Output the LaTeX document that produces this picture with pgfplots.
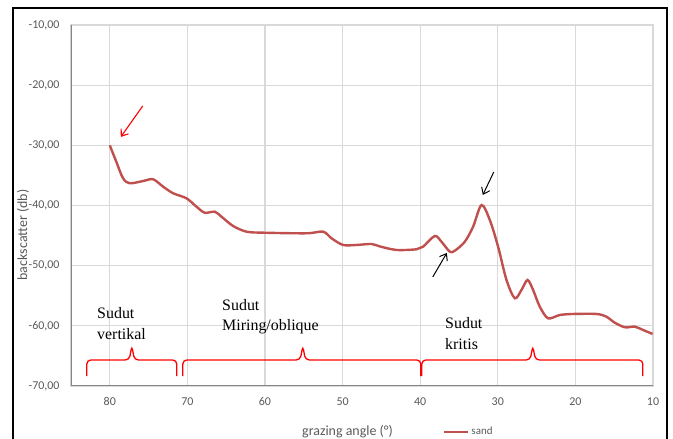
\documentclass[border=0pt]{standalone}
\usepackage{pgfplots}
\pgfplotsset{compat=1.18}
\usepackage{fontspec}
\setmainfont{Carlito}
\newfontfamily\tnr{Liberation Serif}
\usetikzlibrary{arrows.meta}
\definecolor{sandred}{RGB}{192,80,77}
\definecolor{gridgray}{RGB}{217,217,217}
\definecolor{axgray}{RGB}{134,134,134}
\definecolor{ticktext}{RGB}{89,89,89}

\begin{document}
\begin{tikzpicture}[x=1bp,y=1bp]
\useasboundingbox (0,0) rectangle (673,439);
\clip (0,0) rectangle (673,439);
\begin{axis}[
  at={(71bp,53bp)}, anchor=south west,
  scale only axis, width=582bp, height=361bp,
  x dir=reverse, xmin=10, xmax=85, ymin=-70, ymax=-10,
  xtick={10,20,...,80}, ytick={-70,-60,...,-10},
  grid=major, major grid style={gridgray, line width=1.1bp},
  axis line style={gridgray, line width=1.1bp},
  major tick length=0pt,
  tick label style={font=\fontsize{12}{14}\selectfont, text=ticktext},
  /pgf/number format/assume math mode=true,
  yticklabel style={/pgf/number format/fixed, /pgf/number format/fixed zerofill,
    /pgf/number format/precision=2, /pgf/number format/use comma, xshift=-8bp},
  xticklabel style={yshift=-8bp},
  legend style={at={(axis description cs:0.639,-0.127)}, anchor=west, draw=none, fill=none,
    font=\fontsize{11}{13}\selectfont, text=ticktext, inner sep=0pt},
  legend image code/.code={\draw[#1] (0bp,0bp) -- (24bp,0bp);},
]
\addplot[sandred, line width=2.4bp, smooth, tension=0.5] coordinates {
(80.00,-30.00) (79.20,-32.60) (78.29,-35.48) (77.42,-36.31) (75.71,-35.93) (74.42,-35.64)
(73.13,-36.87) (71.84,-37.97) (70.12,-38.80) (68.83,-40.20) (67.76,-41.20) (66.47,-41.03)
(65.61,-41.86) (64.11,-43.41) (62.38,-44.35) (60.24,-44.52) (54.65,-44.62) (52.51,-44.35)
(51.43,-45.45) (49.94,-46.56) (48.21,-46.56) (46.28,-46.40) (45.21,-46.80) (43.05,-47.39)
(40.48,-47.28) (39.63,-46.85) (38.12,-45.07) (37.26,-46.02) (36.19,-47.68) (35.54,-47.51)
(34.25,-46.02) (33.18,-43.52) (32.10,-39.92) (31.03,-42.41) (29.96,-46.85) (28.88,-52.38)
(27.81,-55.42) (26.95,-54.04) (26.17,-52.38) (25.45,-54.04) (24.59,-56.82) (23.52,-58.75)
(22.01,-58.20) (20.30,-58.03) (17.28,-58.03) (16.01,-58.48) (14.92,-59.48) (13.63,-60.24)
(12.35,-60.14) (11.28,-60.69) (10.06,-61.35)
};
\addlegendentry{sand}
% axis lines (left and bottom darker)
\draw[axgray, line width=1.1bp] (rel axis cs:0,0) -- (rel axis cs:1,0);
\draw[axgray, line width=1.1bp] (rel axis cs:0,0) -- (rel axis cs:0,1);
% arrows
\draw[red, line width=1.1bp, -{Straight Barb[length=6bp, width=9bp]}] (axis cs:75.75,-23.45) -- (axis cs:78.58,-28.6);
\draw[black, line width=1.0bp, -{Straight Barb[length=6bp, width=9bp]}] (axis cs:30.52,-34.43) -- (axis cs:31.93,-38.25);
\draw[black, line width=1.0bp, -{Straight Barb[length=6bp, width=9bp]}] (axis cs:38.38,-51.88) -- (axis cs:36.57,-47.89);
% braces
\draw[red, line width=1.3bp, rounded corners=4bp]
  (axis cs:82.96,-68.34) -- (axis cs:82.96,-65.68) -- (axis cs:77.50,-65.68) -- (axis cs:77.16,-63.35)
  -- (axis cs:76.82,-65.68) -- (axis cs:71.37,-65.68) -- (axis cs:71.37,-68.34);
\draw[red, line width=1.3bp, rounded corners=4bp]
  (axis cs:70.59,-68.34) -- (axis cs:70.59,-65.68) -- (axis cs:55.47,-65.68) -- (axis cs:55.13,-63.35)
  -- (axis cs:54.79,-65.68) -- (axis cs:39.92,-65.68) -- (axis cs:39.92,-68.34);
\draw[red, line width=1.3bp, rounded corners=4bp]
  (axis cs:39.79,-68.34) -- (axis cs:39.79,-65.68) -- (axis cs:25.83,-65.68) -- (axis cs:25.49,-63.35)
  -- (axis cs:25.15,-65.68) -- (axis cs:11.31,-65.68) -- (axis cs:11.31,-68.34);
\end{axis}
% region labels
\node[anchor=north west, inner sep=0pt, align=left, font=\tnr\fontsize{16}{21}\selectfont] at (97,132) {Sudut\\vertikal};
\node[anchor=north west, inner sep=0pt, align=left, font=\tnr\fontsize{16}{20}\selectfont] at (222,140) {Sudut\\Miring/oblique};
\node[anchor=north west, inner sep=0pt, align=left, font=\tnr\fontsize{16}{21}\selectfont] at (445,122) {Sudut\\kritis};
% axis titles
\node[rotate=90, font=\fontsize{14}{16}\selectfont, text=ticktext] at (23,204) {backscatter (db)};
\node[font=\fontsize{14}{16}\selectfont, text=ticktext] at (347.5,7) {grazing angle (°)};
% outer border
\draw[black, line width=1.5bp] (13,-10) rectangle (667,431);
\end{tikzpicture}
\end{document}
